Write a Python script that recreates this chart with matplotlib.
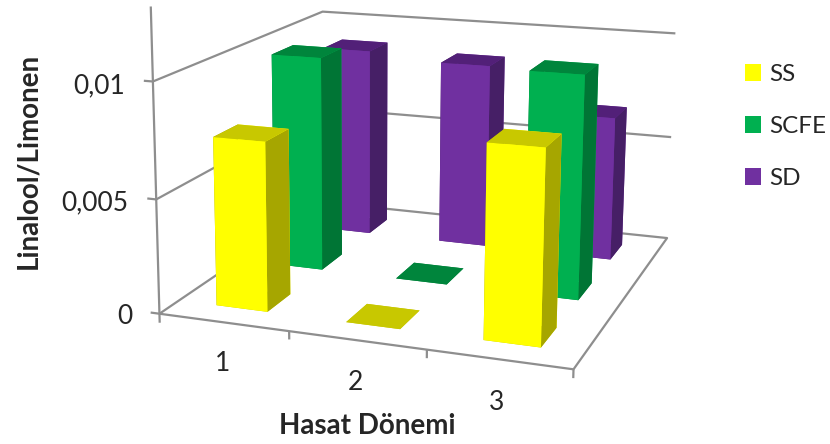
import numpy as np
import matplotlib
matplotlib.use("Agg")
import matplotlib.pyplot as plt
from matplotlib.patches import Patch
from mpl_toolkits.mplot3d import Axes3D

plt.rcParams["font.family"] = ["Lato", "DejaVu Sans"]

# Chart data
periods = ["1", "2", "3"]
series_names = ["SS", "SCFE", "SD"]
ss_values = [0.0074, 0.0, 0.0082]
scfe_values = [0.0098, 0.0, 0.0099]
sd_values = [0.0090, 0.0087, 0.0067]
y_ticks = [0.0, 0.005, 0.01]
y_tick_labels = ["0", "0,005", "0,01"]
y_axis_top = 0.0131

# Bar colours: front face, top face, side face
palette = {
    "SS": ("#FFFF00", "#C8C800", "#A6A600"),
    "SCFE": ("#00B050", "#00853C", "#007535"),
    "SD": ("#7030A0", "#522078", "#461F66"),
}
GRID = "#8E8E8E"
TEXT = "#262626"
BAR_SPAN = 0.4

# Camera calibration: box corners (period, series, value) and where they land on the canvas
WIDTH, HEIGHT = 830, 444
box_corners = [
    (0, 0, 0.0, 160, 314), (3, 0, 0.0, 573, 370), (3, 3, 0.0, 667, 237), (0, 3, 0.0, 323, 203),
    (0, 0, 0.01, 152, 81), (0, 3, 0.01, 323, 12), (3, 3, 0.01, 675, 34),
    (0, 0, 0.005, 157, 199), (0, 3, 0.005, 323, 107.5), (3, 3, 0.005, 672, 137),
]


def fit_camera(corners):
    rows, rhs = [], []
    for x, y, z, u, v in corners:
        rows.append([x, y, z, 1, 0, 0, 0, 0, -u * x, -u * y, -u * z])
        rhs.append(u)
        rows.append([0, 0, 0, 0, x, y, z, 1, -v * x, -v * y, -v * z])
        rhs.append(v)
    sol = np.linalg.lstsq(np.array(rows, float), np.array(rhs, float), rcond=None)[0]
    return np.append(sol, 1.0).reshape(3, 4)


class CameraAxes3D(Axes3D):
    """3D axes that project through a fixed perspective camera given in canvas pixels."""

    camera = None

    def apply_aspect(self, position=None):
        pass

    def get_proj(self):
        x0, x1 = self.viewLim.intervalx
        y0, y1 = self.viewLim.intervaly
        to_view = np.array([
            [(x1 - x0) / WIDTH, 0, 0, x0],
            [0, (y0 - y1) / HEIGHT, 0, y1],
            [0, 0, 1, 0],
            [0, 0, 0, 1],
        ])
        depth = [-0.3, 1.0, -30.0, 5.0]
        full = np.array([self.camera[0], self.camera[1], depth, self.camera[2]])
        return to_view @ full


CameraAxes3D.camera = fit_camera(box_corners)

fig = plt.figure(figsize=(WIDTH / 100, HEIGHT / 100), dpi=100, facecolor="white")
ax = fig.add_axes([0, 0, 1, 1], axes_class=CameraAxes3D, computed_zorder=False)
ax.set_proj_type("ortho")
ax.set_axis_off()
# The built-in 3D axes stay unused; the frame is drawn by hand below
for axis in (ax.xaxis, ax.yaxis, ax.zaxis):
    axis.set_visible(False)
    axis.label.set_visible(False)
    axis.offsetText.set_visible(False)

n_cat, n_ser = len(periods), len(series_names)


def frame_line(xs, ys, zs):
    ax.plot(xs, ys, zs, color=GRID, lw=1.6, zorder=1, solid_capstyle="butt")


# Floor outline and walls
frame_line([0, n_cat, n_cat, 0, 0], [0, 0, n_ser, n_ser, 0], [0, 0, 0, 0, 0])
for tick in y_ticks[1:]:
    frame_line([0, 0, n_cat], [0, n_ser, n_ser], [tick, tick, tick])
frame_line([0, 0], [0, 0], [-0.0004, y_axis_top])

# Value axis ticks and labels
for tick, label in zip(y_ticks, y_tick_labels):
    frame_line([0, -0.07], [0, 0], [tick, tick])
    ax.text(-0.22, 0, tick - 0.00028, label, ha="right", va="center", fontsize=19, color=TEXT)

# Period axis ticks and labels
for i in range(1, n_cat + 1):
    frame_line([i, i], [0, 0], [0, -0.00036])
for i, label in enumerate(periods):
    ax.text(i + 0.49, 0, -0.00182, label, ha="center", va="center", fontsize=19, color=TEXT)

# Bars, back row first and left to right so nearer bars cover farther ones
rows = {"SS": ss_values, "SCFE": scfe_values, "SD": sd_values}
offset = (1 - BAR_SPAN) / 2
order = 10
for s in reversed(range(n_ser)):
    name = series_names[s]
    front, top, side = palette[name]
    for c, value in enumerate(rows[name]):
        ax.bar3d(c + offset, s + offset, 0, BAR_SPAN, BAR_SPAN, value,
                 color=[top, top, front, front, side, side], shade=False,
                 edgecolor="none", linewidth=0, zorder=order)
        order += 1

fig.text(28 / WIDTH, 1 - 161 / HEIGHT, "Linalool/Limonen", rotation=90, ha="center", va="center",
         fontsize=20, fontweight="bold", color=TEXT)
fig.text(367 / WIDTH, 1 - 426 / HEIGHT, "Hasat Dönemi", ha="center", va="center",
         fontsize=20, fontweight="bold", color=TEXT)

handles = [Patch(facecolor=palette[n][0], edgecolor="none") for n in series_names]
fig.legend(handles, series_names, loc="upper left", bbox_to_anchor=(745 / WIDTH, 1 - 64 / HEIGHT),
           frameon=False, fontsize=17.5, handlelength=0.66, handleheight=0.66, handletextpad=0.33,
           labelspacing=1.28, borderpad=0, borderaxespad=0, labelcolor=TEXT)

fig.savefig("out.png", dpi=100, facecolor="white")
